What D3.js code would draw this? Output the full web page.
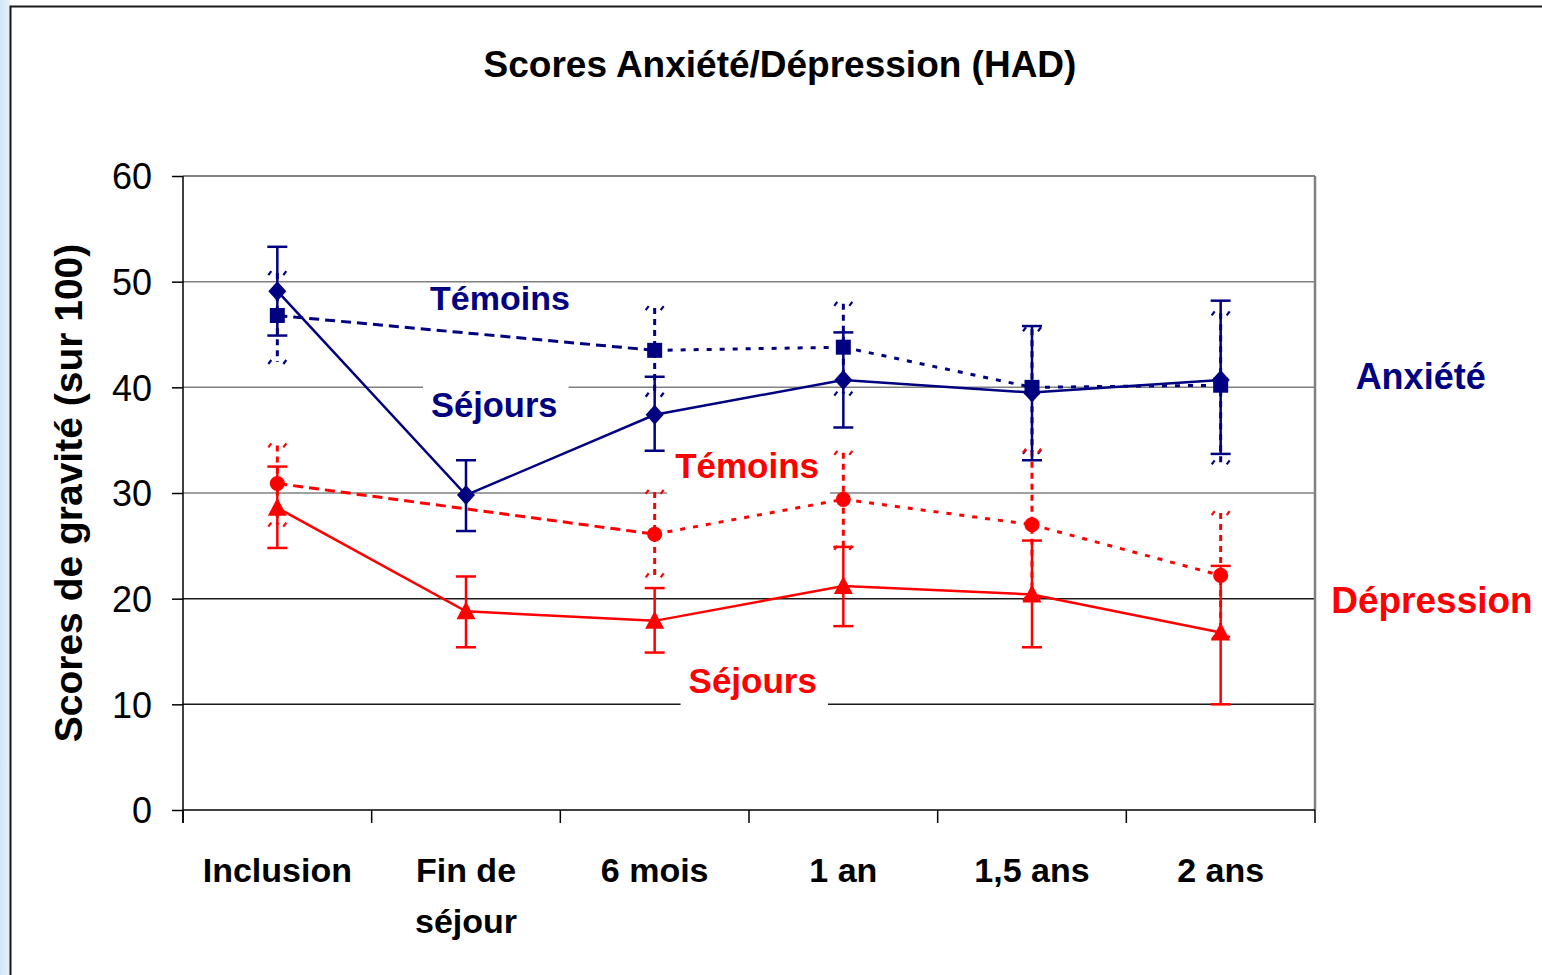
<!DOCTYPE html>
<html>
<head>
<meta charset="utf-8">
<script src="https://cdn.jsdelivr.net/npm/d3@7"></script>
<style>
  html, body { margin: 0; padding: 0; background: #ffffff; overflow: hidden; }
  svg { display: block; }
  text { font-family: "Liberation Sans", Arial, Helvetica, sans-serif; }
</style>
</head>
<body>
<svg id="chart" width="1542" height="975"></svg>
<script>
// ---- data ----
const categories = ["Inclusion", "Fin de séjour", "6 mois", "1 an", "1,5 ans", "2 ans"];
const categoryLines = [["Inclusion"], ["Fin de", "séjour"], ["6 mois"], ["1 an"], ["1,5 ans"], ["2 ans"]];
const yTicks = [0, 10, 20, 30, 40, 50, 60];

// Anxiété
const anxSejours     = [49.1, 29.8, 37.4, 40.7, 39.5, 40.7];
const anxSejoursLow  = [44.9, 26.4, 34.0, 36.2, 33.1, 33.7];
const anxSejoursHigh = [53.3, 33.1, 41.0, 45.2, 45.8, 48.2];
const anxTemoins     = [46.8, null, 43.5, 43.8, 40.0, 40.2];
const anxTemoinsLow  = [42.4, null, 39.3, 39.4, 33.9, 32.9];
const anxTemoinsHigh = [50.8, null, 47.5, 47.9, 45.5, 47.0];

// Dépression
const depSejours     = [28.6, 18.8, 17.9, 21.2, 20.4, 16.8];
const depSejoursLow  = [24.8, 15.4, 14.9, 17.4, 15.4, 10.0];
const depSejoursHigh = [32.5, 22.1, 21.0, 24.9, 25.5, 23.1];
const depTemoins     = [30.9, null, 26.1, 29.4, 27.0, 22.2];
const depTemoinsLow  = [27.0, null, 22.2, 24.8, 20.0, 16.3];
const depTemoinsHigh = [34.5, null, 30.1, 33.8, 34.0, 28.1];

const NAVY = "#000080", RED = "#ff0000";

// ---- layout ----
const svg = d3.select("#chart");
const plot = { left: 183, right: 1315, top: 176, bottom: 810 };

const x = d3.scaleBand().domain(categories).range([plot.left, plot.right]).padding(0);
const y = d3.scaleLinear().domain([0, 60]).range([plot.bottom, plot.top]);
const cx = c => x(c) + x.bandwidth() / 2;
// continuous position along the category axis (0 = first category centre)
const xPos = t => cx(categories[0]) + t * x.step();

// slide background strip and frame
const bg = svg.append("defs").append("linearGradient").attr("id", "strip")
  .attr("x1", 0).attr("x2", 1).attr("y1", 0).attr("y2", 0);
bg.append("stop").attr("offset", 0).attr("stop-color", "#cfe6f8");
bg.append("stop").attr("offset", 1).attr("stop-color", "#e6f2fc");
svg.append("rect").attr("x", 0).attr("y", 0).attr("width", 10).attr("height", 975).attr("fill", "url(#strip)");
svg.append("rect").attr("x", 10.5).attr("y", 6.5).attr("width", 1600).attr("height", 1100)
  .attr("fill", "#ffffff").attr("stroke", "#1a1a1a").attr("stroke-width", 2);

// title
svg.append("text").attr("x", 780).attr("y", 77).attr("text-anchor", "middle")
  .attr("font-size", 37).attr("font-weight", "bold").attr("fill", "#000")
  .text("Scores Anxiété/Dépression (HAD)");

// gridlines
svg.append("g").selectAll("line").data(yTicks.filter(v => v > 0 && v < 60)).join("line")
  .attr("x1", plot.left).attr("x2", plot.right)
  .attr("y1", d => y(d)).attr("y2", d => y(d))
  .attr("stroke", d => d <= 20 ? "#1a1a1a" : "#808080").attr("stroke-width", 1.5);

// plot frame (top and right in grey)
svg.append("line").attr("x1", plot.left).attr("x2", plot.right).attr("y1", plot.top).attr("y2", plot.top)
  .attr("stroke", "#808080").attr("stroke-width", 2);
svg.append("line").attr("x1", plot.right).attr("x2", plot.right).attr("y1", plot.top).attr("y2", plot.bottom)
  .attr("stroke", "#808080").attr("stroke-width", 2.5);

// y axis
const yAxis = svg.append("g").attr("transform", `translate(${plot.left},0)`)
  .call(d3.axisLeft(y).tickValues(yTicks).tickSize(11).tickPadding(20).tickFormat(d3.format("d")));
yAxis.select(".domain").attr("stroke", "#000").attr("stroke-width", 1.5)
  .attr("d", `M0,${plot.top}V${plot.bottom + 13}`);
yAxis.selectAll(".tick line").attr("stroke", "#000").attr("stroke-width", 1.5);
yAxis.selectAll(".tick text").attr("font-size", 36).attr("fill", "#000")
  .attr("font-family", "'Liberation Sans', Arial, sans-serif").attr("dy", "0.36em");

// x axis: baseline, ticks at category boundaries, two-line labels
svg.append("line").attr("x1", plot.left).attr("x2", plot.right).attr("y1", plot.bottom).attr("y2", plot.bottom)
  .attr("stroke", "#000").attr("stroke-width", 1.5);
const bounds = categories.map(c => x(c)).concat([plot.right]);
svg.append("g").selectAll("line").data(bounds).join("line")
  .attr("x1", d => d).attr("x2", d => d).attr("y1", plot.bottom).attr("y2", plot.bottom + 13)
  .attr("stroke", "#000").attr("stroke-width", 1.5);
const xl = svg.append("g").selectAll("text").data(categories).join("text")
  .attr("x", d => cx(d)).attr("y", 882).attr("text-anchor", "middle")
  .attr("font-size", 34).attr("font-weight", "bold").attr("fill", "#000");
xl.selectAll("tspan").data((d, i) => categoryLines[i]).join("tspan")
  .attr("x", function () { return d3.select(this.parentNode).attr("x"); })
  .attr("dy", (d, i) => i === 0 ? 0 : 51).text(d => d);

// y axis title
svg.append("text").attr("transform", "translate(82,493) rotate(-90)").attr("text-anchor", "middle")
  .attr("font-size", 39).attr("font-weight", "bold").attr("fill", "#000")
  .text("Scores de gravité (sur 100)");

// series annotations (white box hides gridlines under some of them)
const annotations = [
  { text: "Témoins", color: NAVY, t: 1.18, v: 47.3, size: 34, box: false },
  { text: "Séjours", color: NAVY, t: 1.15, v: 37.2, size: 34.5, box: true },
  { text: "Témoins", color: RED,  t: 2.49, v: 31.4, size: 35, box: true },
  { text: "Séjours", color: RED,  t: 2.52, v: 11.1, size: 35, box: true },
  { text: "Anxiété", color: NAVY, t: 6.06, v: 39.8, size: 36, box: false },
  { text: "Dépression", color: RED, t: 6.12, v: 18.6, size: 37, box: false }
];
const ann = svg.append("g");
annotations.forEach(a => {
  const g = ann.append("g");
  const txt = g.append("text").attr("x", xPos(a.t)).attr("y", y(a.v)).attr("text-anchor", "middle")
    .attr("font-size", a.size).attr("font-weight", "bold").attr("fill", a.color).text(a.text);
  if (a.box) {
    const b = txt.node().getBBox();
    g.insert("rect", "text").attr("x", b.x - 8).attr("y", b.y).attr("width", b.width + 19)
      .attr("height", b.height + 12).attr("fill", "#ffffff");
  }
});

// ---- series ----
const data = (vals, lo, hi) => vals.map((v, i) => ({ c: categories[i], v, lo: lo[i], hi: hi[i] }))
  .filter(d => d.v !== null);

const lineGen = d3.line().x(d => cx(d.c)).y(d => y(d.v));

function drawTemoins(vals, lo, hi, color, marker) {
  const pts = data(vals, lo, hi);
  const g = svg.append("g");
  // error bars: dashed stems with slanted end marks
  pts.forEach(d => {
    const px = cx(d.c);
    g.append("line").attr("x1", px).attr("x2", px).attr("y1", y(d.hi)).attr("y2", y(d.lo))
      .attr("stroke", color).attr("stroke-width", 3).attr("stroke-dasharray", "6,5");
    [d.hi, d.lo].forEach(e => {
      [-1, 1].forEach(s => {
        const ex = px + s * 7.5;
        g.append("line").attr("x1", ex - 1.5).attr("x2", ex + 1.5).attr("y1", y(e) + 2).attr("y2", y(e) - 2)
          .attr("stroke", color).attr("stroke-width", 2.2);
      });
    });
  });
  // connecting segments: longer dashes where a time point is missing
  for (let i = 0; i < pts.length - 1; i++) {
    const a = pts[i], b = pts[i + 1];
    const gap = categories.indexOf(b.c) - categories.indexOf(a.c) > 1;
    g.append("path").attr("d", lineGen([a, b])).attr("fill", "none").attr("stroke", color)
      .attr("stroke-width", 3).attr("stroke-dasharray", gap ? "10,6" : "5,8");
  }
  drawMarkers(g, pts, color, marker);
}

function drawSejours(vals, lo, hi, color, marker) {
  const pts = data(vals, lo, hi);
  const g = svg.append("g");
  pts.forEach(d => {
    const px = cx(d.c);
    g.append("line").attr("x1", px).attr("x2", px).attr("y1", y(d.hi)).attr("y2", y(d.lo))
      .attr("stroke", color).attr("stroke-width", 2.5);
    [d.hi, d.lo].forEach(e => {
      g.append("line").attr("x1", px - 10).attr("x2", px + 10).attr("y1", y(e)).attr("y2", y(e))
        .attr("stroke", color).attr("stroke-width", 2.5);
    });
  });
  g.append("path").attr("d", lineGen(pts)).attr("fill", "none").attr("stroke", color).attr("stroke-width", 2.5);
  drawMarkers(g, pts, color, marker);
}

const shapes = {
  diamond: "M0,-10L9,0L0,10L-9,0Z",
  square: "M-7.5,-7.5H7.5V7.5H-7.5Z",
  triangle: "M0,-10L9.5,8H-9.5Z",
  circle: d3.symbol(d3.symbolCircle, 180)()
};
function drawMarkers(g, pts, color, marker) {
  g.selectAll("path.mk").data(pts).join("path").attr("class", "mk")
    .attr("transform", d => `translate(${cx(d.c)},${y(d.v)})`)
    .attr("d", shapes[marker]).attr("fill", color);
}

drawTemoins(anxTemoins, anxTemoinsLow, anxTemoinsHigh, NAVY, "square");
drawTemoins(depTemoins, depTemoinsLow, depTemoinsHigh, RED, "circle");
drawSejours(depSejours, depSejoursLow, depSejoursHigh, RED, "triangle");
drawSejours(anxSejours, anxSejoursLow, anxSejoursHigh, NAVY, "diamond");
</script>
</body>
</html>
